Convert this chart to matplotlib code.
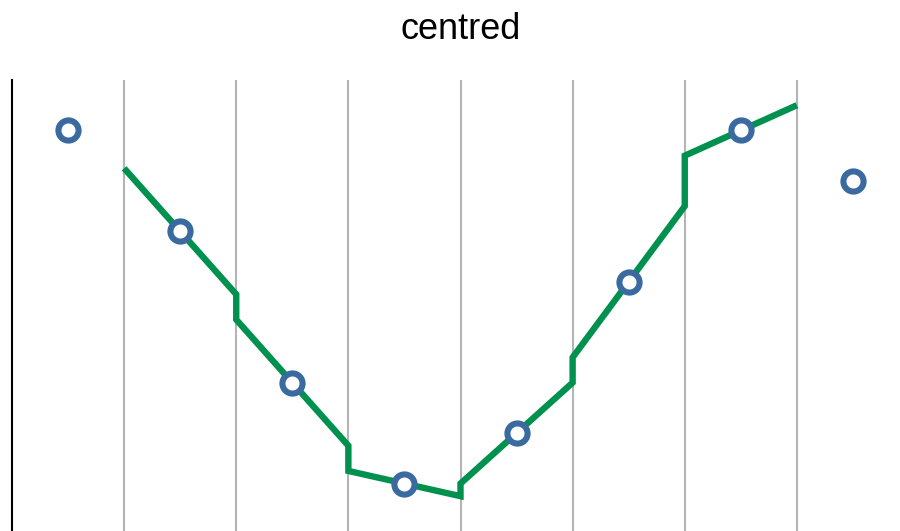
import matplotlib
matplotlib.use("Agg")
import matplotlib.pyplot as plt
import numpy as np

# Data: one value per band, points placed at the band centres
categories = ["a", "b", "c", "d", "e", "f", "g", "h"]
values = [8, 6, 3, 1, 2, 5, 8, 7]
y_max = 9

title_text = "centred"
line_color = "#00914f"
point_color = "#3b6aa0"
grid_color = "#b4b4b4"

plt.rcParams["font.family"] = ["Liberation Sans", "DejaVu Sans"]

W, H = 900, 531
fig = plt.figure(figsize=(W / 100, H / 100), dpi=100)

# axes spans past the bottom/right edges of the canvas
left_px, right_px, top_px, bottom_px = 12, 909, 80, 534
ax = fig.add_axes([left_px / W, (H - bottom_px) / H,
                   (right_px - left_px) / W, (bottom_px - top_px) / H])

n = len(categories)
centres = np.arange(n) + 0.5
vals = np.asarray(values, dtype=float)

# Centred-difference tangent segment drawn across each interior band
xs, ys = [], []
for i in range(1, n - 1):
    slope = (vals[i + 1] - vals[i - 1]) / 2.0
    xs += [i, i + 1]
    ys += [vals[i] - slope / 2.0, vals[i] + slope / 2.0]

ax.plot(xs, ys, color=line_color, lw=4.6, solid_joinstyle="miter",
        solid_capstyle="butt", zorder=3, clip_on=False)
ax.plot(centres, vals, linestyle="none", marker="o", ms=14.5, mew=4.4,
        mfc="white", mec=point_color, zorder=4, clip_on=False)

ax.set_xlim(0, n)
ax.set_ylim(0, y_max)

# Band boundaries as vertical grid lines
ax.set_xticks(np.arange(1, n))
ax.set_xticklabels([])
ax.set_yticks([])
ax.tick_params(axis="x", length=0)
ax.grid(axis="x", color=grid_color, lw=1.5, zorder=1)
ax.set_axisbelow(True)

for s in ["top", "right", "bottom"]:
    ax.spines[s].set_visible(False)
ax.spines["left"].set_color("black")
ax.spines["left"].set_linewidth(1.5)

ax.set_title(title_text, fontsize=26, pad=29.5, color="black")

fig.savefig("out.png", dpi=100)
